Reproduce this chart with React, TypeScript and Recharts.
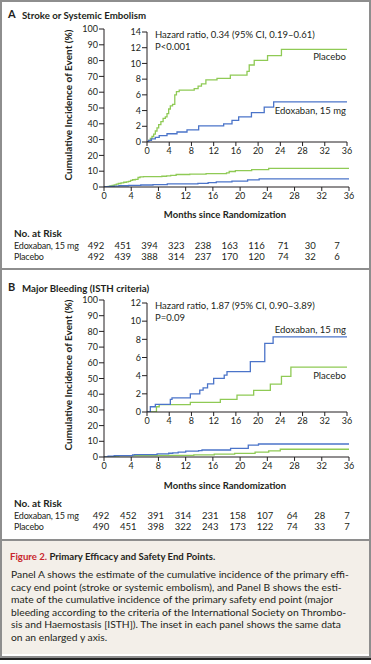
import React from 'react';
import { LineChart, Line, XAxis, YAxis } from 'recharts';

const FONT = 'Lato, "Open Sans", sans-serif';
const GREEN = '#8fca55';
const BLUE = '#4b74c9';
const INK = '#231f20';
const RED = '#c8262c';
const BORDER = '#8e8e8e';
const BEIGE = '#f3efe9';

// axis ticks
const monthTicks = [0, 4, 8, 12, 16, 20, 24, 28, 32, 36];
const mainYTicks = [0, 10, 20, 30, 40, 50, 60, 70, 80, 90, 100];
const insetATicks = [0, 2, 4, 6, 8, 10, 12, 14];
const insetBTicks = [0, 2, 4, 6, 8, 10, 12];

// Panel A: stroke or systemic embolism (step points: month, cumulative %)
const strokePlaceboMonths = [0, 0.3, 0.6, 0.9, 1.2, 1.5, 1.8, 2.1, 2.5, 2.9, 3.3, 3.6, 3.9, 4.2, 4.6, 5.0, 5.3, 5.8, 8.5, 9.2, 9.8, 10.6, 12.6, 15.0, 18.0, 18.4, 19.3, 21.7, 24.2, 36];
const strokePlaceboValues = [0, 0.2, 0.45, 0.7, 1.0, 1.4, 1.8, 2.2, 2.6, 3.0, 3.2, 3.6, 4.2, 4.6, 4.8, 6.0, 6.4, 6.6, 6.8, 7.1, 7.4, 7.9, 8.1, 8.5, 9.0, 9.8, 10.4, 11.0, 11.8, 11.8];
const strokeEdoxMonths = [0, 0.3, 0.8, 1.5, 2.2, 3.6, 5.4, 7.2, 9.3, 13.8, 15.3, 16.5, 18.8, 21.1, 22.8, 36];
const strokeEdoxValues = [0, 0.2, 0.4, 0.6, 0.8, 1.05, 1.27, 1.55, 2.04, 2.3, 2.75, 3.2, 3.75, 4.45, 5.1, 5.1];

// Panel B: major bleeding
const bleedEdoxMonths = [0, 0.6, 1.5, 4.2, 4.5, 7.8, 9.5, 10.1, 10.9, 12.0, 13.9, 14.4, 18.6, 21.2, 22.7, 36];
const bleedEdoxValues = [0, 0.58, 0.84, 1.4, 1.55, 2.0, 2.4, 2.65, 3.1, 3.7, 4.05, 4.45, 5.55, 7.55, 8.28, 8.28];
const bleedPlaceboMonths = [0, 1.7, 2.2, 7.8, 13.2, 16.2, 19.2, 22.2, 24.2, 25.9, 36];
const bleedPlaceboValues = [0, 0.58, 0.82, 1.05, 1.4, 1.85, 2.37, 3.07, 3.92, 4.93, 4.93];

// numbers at risk
const riskLabels = ['Edoxaban, 15 mg', 'Placebo'];
const riskAEdox = [492, 451, 394, 323, 238, 163, 116, 71, 30, 7];
const riskAPlacebo = [492, 439, 388, 314, 237, 170, 120, 74, 32, 6];
const riskBEdox = [492, 452, 391, 314, 231, 158, 107, 64, 28, 7];
const riskBPlacebo = [490, 451, 398, 322, 243, 173, 122, 74, 33, 7];

const captionLines = [
  'Panel A shows the estimate of the cumulative incidence of the primary effi-',
  'cacy end point (stroke or systemic embolism), and Panel B shows the esti-',
  'mate of the cumulative incidence of the primary safety end point (major',
  'bleeding according to the criteria of the International Society on Thrombo-',
  'sis and Haemostasis [ISTH]). The inset in each panel shows the same data',
  'on an enlarged y axis.',
];

const toSeries = (ms: number[], vs: number[]) => ms.map((m, i) => ({ m, v: vs[i] }));

type PlotProps = {
  top: number;
  height: number;
  yMax: number;
  yTicks: number[];
  mt: number;
  mr: number;
  mb: number;
  yWidth: number;
  xHeight: number;
  series: { data: { m: number; v: number }[]; color: string; name: string }[];
};

const tickStyle = { fontSize: 9, fill: INK, fontFamily: FONT };

function Plot({ top, height, yMax, yTicks, mt, mr, mb, yWidth, xHeight, series }: PlotProps) {
  return (
    <div style={{ position: 'absolute', left: 0, top, width: 371, height }}>
      <LineChart width={371} height={height} margin={{ top: mt, right: mr, bottom: mb, left: 0 }}>
        <XAxis
          dataKey="m"
          type="number"
          domain={[0, 36]}
          ticks={monthTicks}
          interval={0}
          height={xHeight}
          tick={tickStyle}
          tickSize={4}
          tickMargin={2}
          stroke={INK}
          allowDataOverflow
        />
        <YAxis
          type="number"
          domain={[0, yMax]}
          ticks={yTicks}
          interval={0}
          width={yWidth}
          tick={tickStyle}
          tickSize={5}
          tickMargin={1}
          stroke={INK}
          allowDataOverflow
        />
        {series.map((s) => (
          <Line
            key={s.name}
            data={s.data}
            dataKey="v"
            type="stepAfter"
            stroke={s.color}
            strokeWidth={1.3}
            dot={false}
            activeDot={false}
            isAnimationActive={false}
          />
        ))}
      </LineChart>
    </div>
  );
}

const txt = (extra: React.CSSProperties): React.CSSProperties => ({
  position: 'absolute',
  fontFamily: FONT,
  color: INK,
  whiteSpace: 'nowrap',
  lineHeight: '12px',
  ...extra,
});

function YLabel({ cy }: { cy: number }) {
  return (
    <div
      style={txt({
        left: 68 - 90,
        top: cy - 6,
        width: 180,
        textAlign: 'center',
        fontSize: 10,
        fontWeight: 700,
        transform: 'rotate(-90deg)',
        transformOrigin: '90px 6px',
      })}
    >
      Cumulative Incidence of Event (%)
    </div>
  );
}

function RiskTable({ top, rows, x0, dx }: { top: number; rows: number[][]; x0: number; dx: number }) {
  return (
    <>
      <div style={txt({ left: 14, top: top - 6, fontSize: 10, fontWeight: 700 })}>No. at Risk</div>
      {rows.map((row, r) => (
        <React.Fragment key={r}>
          <div style={txt({ left: 14, top: top + 12.5 + r * 11 - 6, fontSize: 9, letterSpacing: -0.2 })}>{riskLabels[r]}</div>
          {row.map((n, i) => (
            <div
              key={i}
              style={txt({ left: x0 + dx * i - 15, width: 30, textAlign: 'center', top: top + 12.5 + r * 11 - 6, fontSize: 9.5 })}
            >
              {n}
            </div>
          ))}
        </React.Fragment>
      ))}
    </>
  );
}

export default function App() {
  const sA = [
    { data: toSeries(strokePlaceboMonths, strokePlaceboValues), color: GREEN, name: 'Placebo' },
    { data: toSeries(strokeEdoxMonths, strokeEdoxValues), color: BLUE, name: 'Edoxaban' },
  ];
  const sB = [
    { data: toSeries(bleedPlaceboMonths, bleedPlaceboValues), color: GREEN, name: 'Placebo' },
    { data: toSeries(bleedEdoxMonths, bleedEdoxValues), color: BLUE, name: 'Edoxaban' },
  ];
  return (
    <div
      style={{
        position: 'absolute',
        left: 0,
        top: 0,
        width: 371,
        height: 664,
        background: '#ffffff',
        overflow: 'hidden',
      }}
    >
      {/* frame */}
      <div style={{ position: 'absolute', left: 0, top: 0, width: 367, height: 654, border: `2px solid ${BORDER}` }} />
      <div style={{ position: 'absolute', left: 2, top: 541, width: 367, height: 113, background: BEIGE }} />
      <div style={{ position: 'absolute', left: 2, top: 268, width: 367, height: 2, background: BORDER }} />
      <div style={{ position: 'absolute', left: 2, top: 539, width: 367, height: 2, background: BORDER }} />
      <div style={{ position: 'absolute', left: 0, top: 658, width: 371, height: 2, background: '#222' }} />

      {/* Panel A */}
      <div style={txt({ left: 8, top: 8, fontSize: 11, fontWeight: 700 })}>A</div>
      <div style={txt({ left: 22, top: 8.5, fontSize: 9.7, fontWeight: 700 })}>Stroke or Systemic Embolism</div>
      <Plot top={0} height={215} yMax={100} yTicks={mainYTicks} mt={29} mr={22} mb={8} yWidth={104} xHeight={20} series={sA} />
      <Plot top={0} height={160} yMax={14} yTicks={insetATicks} mt={32} mr={24} mb={0} yWidth={147} xHeight={18} series={sA} />
      <YLabel cy={105} />
      <div style={txt({ left: 155, top: 29, fontSize: 9.5 })}>Hazard ratio, 0.34 (95% CI, 0.19–0.61)</div>
      <div style={txt({ left: 155, top: 41, fontSize: 9.5 })}>P&lt;0.001</div>
      <div style={txt({ left: 246, width: 100, textAlign: 'right', top: 51, fontSize: 9.5 })}>Placebo</div>
      <div style={txt({ left: 226, width: 120, textAlign: 'right', top: 105, fontSize: 9.5 })}>Edoxaban, 15 mg</div>
      <div style={txt({ left: 125, width: 200, textAlign: 'center', top: 209, fontSize: 9.5, fontWeight: 700 })}>
        Months since Randomization
      </div>
      <RiskTable top={233} rows={[riskAEdox, riskAPlacebo]} x0={96} dx={26.77} />

      {/* Panel B */}
      <div style={txt({ left: 8, top: 281, fontSize: 11, fontWeight: 700 })}>B</div>
      <div style={txt({ left: 22, top: 281.5, fontSize: 9.7, fontWeight: 700 })}>Major Bleeding (ISTH criteria)</div>
      <Plot top={270} height={215} yMax={100} yTicks={mainYTicks} mt={30} mr={22} mb={8} yWidth={104} xHeight={20} series={sB} />
      <Plot top={270} height={160} yMax={12} yTicks={insetBTicks} mt={33} mr={24} mb={0} yWidth={147} xHeight={18} series={sB} />
      <YLabel cy={375} />
      <div style={txt({ left: 155, top: 300, fontSize: 9.5 })}>Hazard ratio, 1.87 (95% CI, 0.90–3.89)</div>
      <div style={txt({ left: 155, top: 312, fontSize: 9.5 })}>P=0.09</div>
      <div style={txt({ left: 226, width: 120, textAlign: 'right', top: 324, fontSize: 9.5 })}>Edoxaban, 15 mg</div>
      <div style={txt({ left: 246, width: 100, textAlign: 'right', top: 370, fontSize: 9.5 })}>Placebo</div>
      <div style={txt({ left: 125, width: 200, textAlign: 'center', top: 480, fontSize: 9.5, fontWeight: 700 })}>
        Months since Randomization
      </div>
      <RiskTable top={503} rows={[riskBEdox, riskBPlacebo]} x0={101} dx={27.34} />

      {/* Caption */}
      <div style={txt({ left: 10, top: 551, fontSize: 9.6, fontWeight: 700 })}>
        <span style={{ color: RED }}>Figure 2.</span> Primary Efficacy and Safety End Points.
      </div>
      {captionLines.map((line, i) => (
        <div key={i} style={txt({ left: 11, top: 568 + i * 12.6, fontSize: 10.3, lineHeight: '12px' })}>
          {line}
        </div>
      ))}
    </div>
  );
}
